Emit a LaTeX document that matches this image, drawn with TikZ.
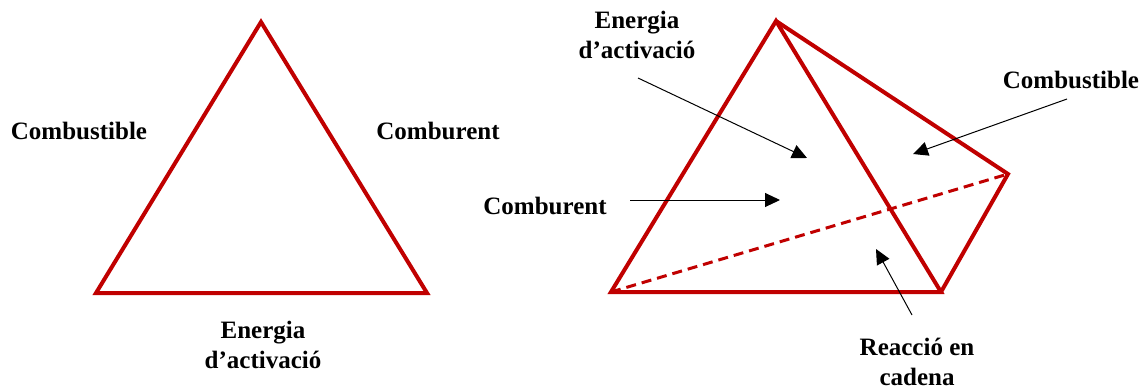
\documentclass[tikz,border=0pt]{standalone}
\usepackage{fontspec}
\setmainfont{Liberation Serif}
\usetikzlibrary{arrows.meta}
\definecolor{firered}{RGB}{192,0,0}
\begin{document}
\begin{tikzpicture}[x=1pt,y=-1pt,
  edge/.style={draw=firered,line width=4pt,line join=miter},
  hidden/.style={draw=firered,line width=3pt,dash pattern=on 10pt off 6pt},
  lbl/.style={font=\fontsize{25}{30}\selectfont\bfseries,align=center,inner sep=0pt},
  pointer/.style={draw=black,line width=1pt,-{Triangle[length=15pt,width=14pt]}}]
\useasboundingbox (0,0) rectangle (1148,389);
% left triangle
\coordinate (A) at (261,22);
\coordinate (B) at (96,293);
\coordinate (C) at (427,293);
\draw[edge] (A) -- (B) -- (C) -- cycle;
\node[lbl] (l1) at (79,131) {Combustible};
\node[lbl] (l2) at (438,131) {Comburent};
\node[lbl] (l3) at (263,345) {Energia\\d’activació};
% tetrahedron
\coordinate (T) at (776,21);
\coordinate (P) at (611,292);
\coordinate (Q) at (941,292);
\coordinate (R) at (1008,174);
\draw[hidden] (P) -- (R);
\draw[edge] (T) -- (P) -- (Q) -- cycle;
\draw[edge] (T) -- (R) -- (Q);
\node[lbl] (r1) at (637,35) {Energia\\d’activació};
\node[lbl] (r2) at (1071,80) {Combustible};
\node[lbl] (r3) at (545,206) {Comburent};
\node[lbl] (r4) at (917,362) {Reacció en\\cadena};
% pointers
\coordinate (s1) at (638,78);  \coordinate (e1) at (807,158);
\coordinate (s2) at (1067,99); \coordinate (e2) at (913,154);
\coordinate (s3) at (630,200); \coordinate (e3) at (780,200);
\coordinate (s4) at (912,315); \coordinate (e4) at (876,249);
\draw[pointer] (s1) -- (e1);
\draw[pointer] (s2) -- (e2);
\draw[pointer] (s3) -- (e3);
\draw[pointer] (s4) -- (e4);
\end{tikzpicture}
\end{document}
